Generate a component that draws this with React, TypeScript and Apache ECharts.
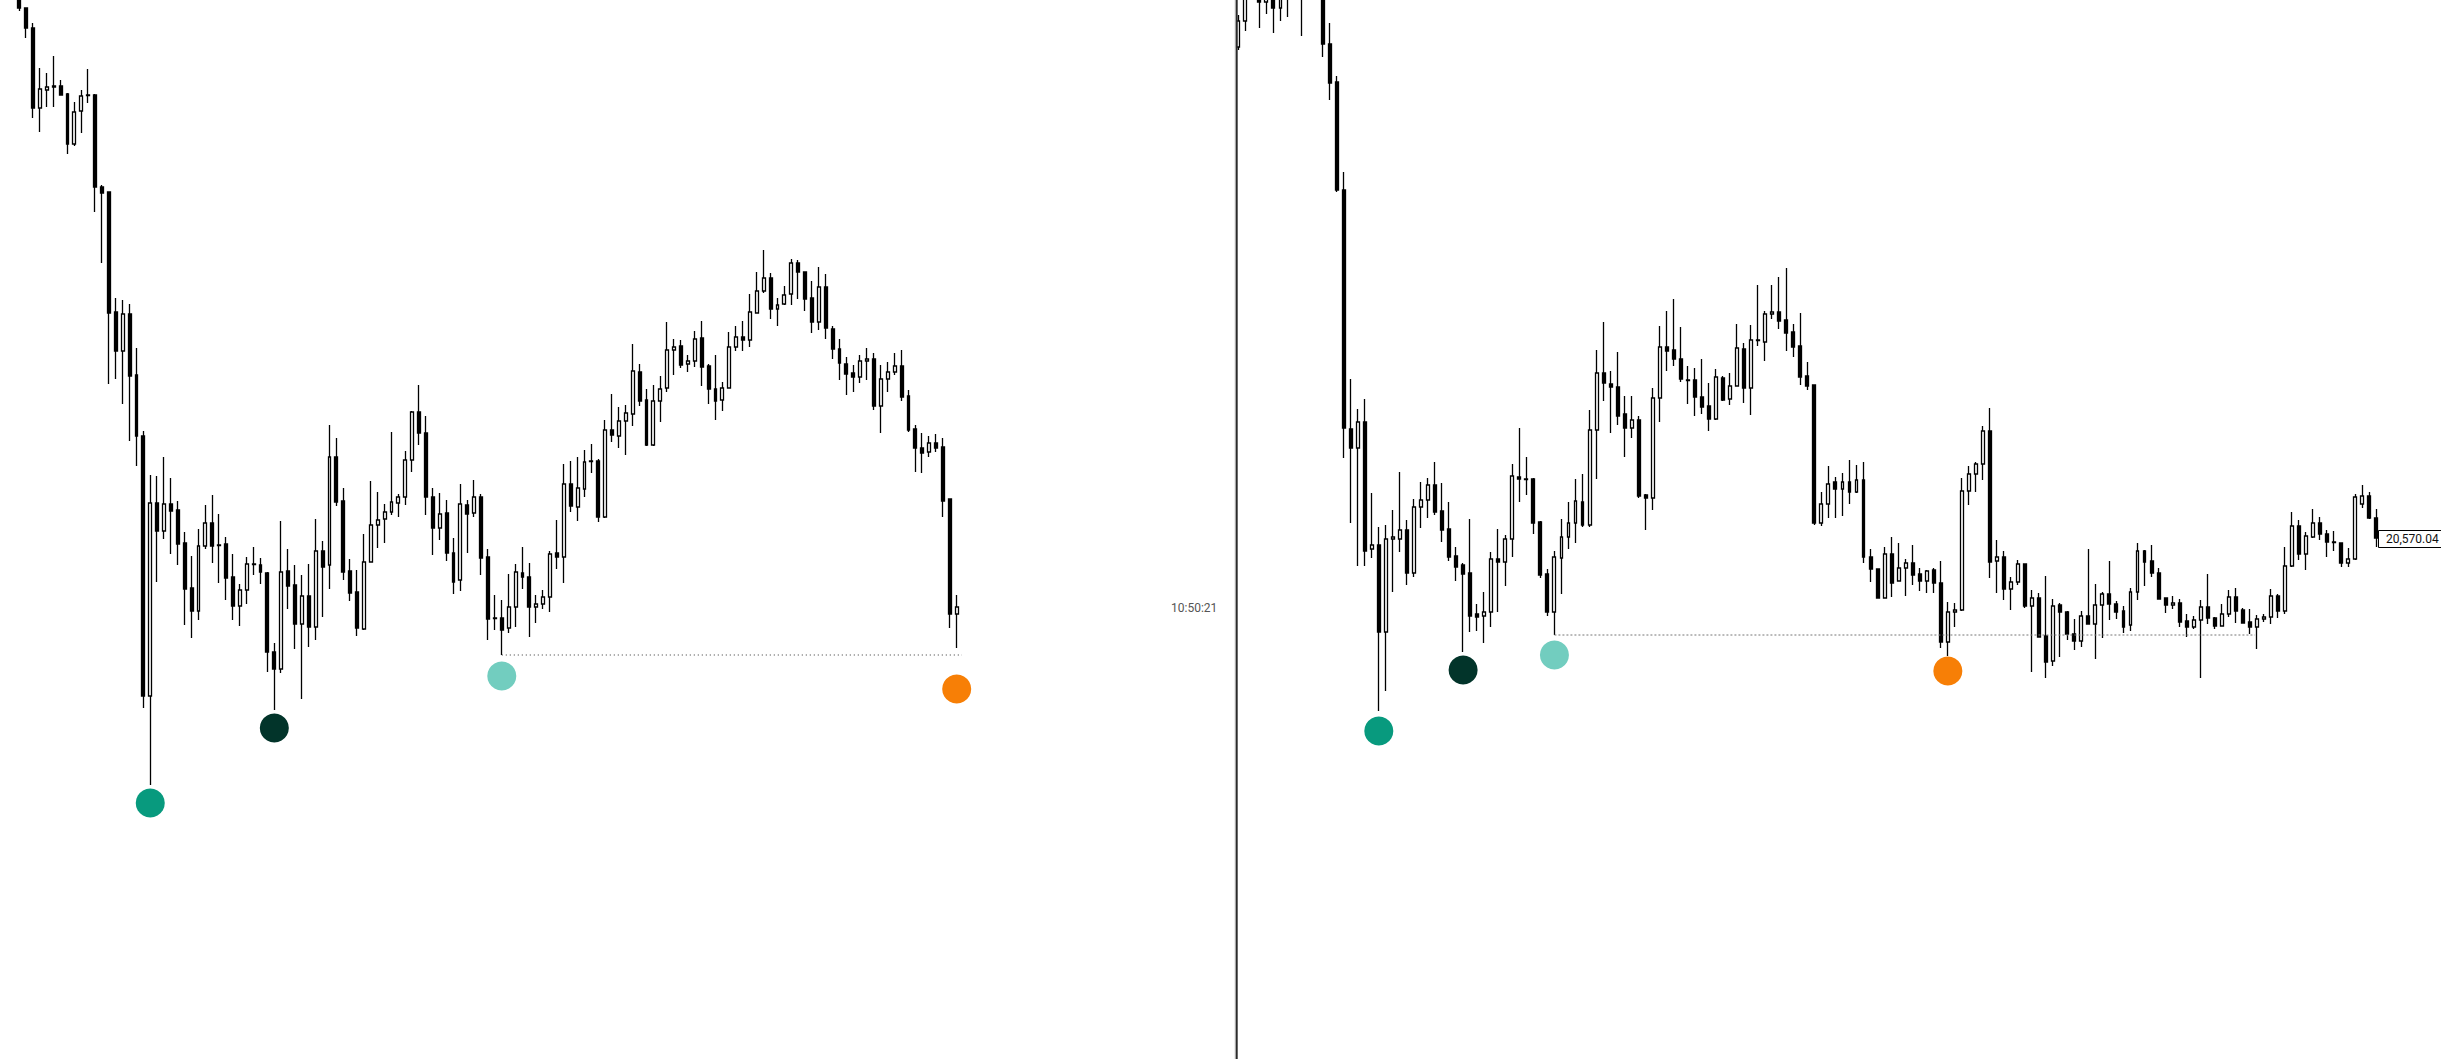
import React, { useEffect, useRef } from "react";
import * as echarts from "echarts";

// Candles as [open, close, low, high]
const leftCandles: number[][] = [
  [21105, 21092, 21089, 21115], [21092, 21072, 21062, 21092], [21072, 20992, 20982, 21077], [20992, 21011, 20968, 21032],
  [21010, 21013, 20993, 21027], [21014, 21013, 20993, 21044], [21014, 21005, 21005, 21020], [21006, 20956, 20946, 21007],
  [20956, 20988, 20954, 20998], [20989, 21004, 20967, 21010], [21005, 21004.5, 20997, 21031], [21005, 20913, 20888, 21006],
  [20913, 20907, 20837, 20915], [20908, 20787, 20716, 20908], [20788, 20749, 20721, 20802], [20749, 20786, 20696, 20800],
  [20786, 20724, 20659, 20796], [20725, 20664, 20634, 20752], [20664, 20404, 20392, 20669], [20404, 20597, 20315, 20625],
  [20597, 20569, 20518, 20624], [20569, 20596, 20561, 20643], [20596, 20589, 20546, 20622], [20590, 20556, 20535, 20599],
  [20557, 20511, 20475, 20568], [20512, 20489, 20462, 20544], [20489, 20554, 20480, 20571], [20554, 20577, 20551, 20595],
  [20577, 20554, 20537, 20605], [20555, 20554.5, 20517, 20586], [20556, 20522, 20500, 20563], [20523, 20494, 20480, 20546],
  [20494, 20510, 20474, 20516], [20510, 20536, 20496, 20543], [20536, 20535.5, 20525, 20553], [20535, 20528, 20516, 20542],
  [20527, 20448, 20428, 20528], [20448, 20431, 20390, 20457], [20431, 20528, 20427, 20579], [20529, 20514, 20491, 20551],
  [20515, 20476, 20451, 20535], [20476, 20504, 20401, 20525], [20504, 20473, 20453, 20536], [20473, 20549, 20460, 20581],
  [20549, 20533, 20483, 20559], [20535, 20643, 20511, 20675], [20643, 20598, 20594, 20662], [20599, 20528, 20520, 20612],
  [20529, 20507, 20499, 20541], [20508, 20472, 20464, 20530], [20471, 20538, 20470, 20566], [20538, 20575, 20538, 20619],
  [20575, 20580, 20552, 20608], [20581, 20588, 20557, 20596], [20588, 20598, 20585, 20668], [20597, 20603, 20583, 20606],
  [20603, 20640, 20595, 20649], [20640, 20688, 20628, 20689], [20688, 20667, 20655, 20715], [20667, 20603, 20585, 20684],
  [20603, 20572, 20545, 20612], [20572, 20586, 20560, 20607], [20587, 20547, 20539, 20600], [20547, 20518, 20506, 20562],
  [20520, 20596, 20509, 20616], [20595, 20586, 20547, 20600], [20587, 20603, 20583, 20620], [20603, 20542, 20525, 20606],
  [20543, 20481, 20460, 20551], [20482, 20481.5, 20470, 20505], [20482, 20470, 20445, 20500], [20472, 20493, 20467, 20526],
  [20493, 20528, 20473, 20536], [20527, 20523, 20511, 20553], [20523, 20493, 20463, 20537], [20493, 20496, 20477, 20505],
  [20496, 20503, 20491, 20510], [20503, 20546, 20488, 20549], [20547, 20543, 20531, 20580], [20543, 20616, 20517, 20636],
  [20616, 20594, 20588, 20639], [20593, 20612, 20579, 20643], [20611, 20638, 20603, 20650], [20639, 20638.5, 20627, 20656],
  [20639, 20583, 20578, 20641], [20583, 20670, 20582, 20680], [20670, 20665, 20658, 20706], [20664, 20679, 20652, 20693],
  [20679, 20687, 20645, 20695], [20686, 20729, 20674, 20756], [20728, 20699, 20694, 20736], [20700, 20655, 20654, 20711],
  [20655, 20699, 20654, 20715], [20699, 20711, 20678, 20724], [20712, 20750, 20708, 20778], [20750, 20753, 20725, 20761],
  [20754, 20735, 20732, 20760], [20736, 20739, 20728, 20745], [20739, 20761, 20733, 20769], [20762, 20733, 20714, 20779],
  [20734, 20711, 20696, 20736], [20711, 20699, 20680, 20745], [20700, 20712, 20689, 20718], [20712, 20753, 20712, 20768],
  [20753, 20763, 20749, 20774], [20763, 20760, 20749, 20779], [20760, 20788, 20753, 20806], [20787, 20809, 20787, 20828],
  [20809, 20822, 20807, 20850], [20822, 20791, 20781, 20827], [20791, 20795, 20774, 20802], [20796, 20805, 20795, 20814],
  [20806, 20837, 20795, 20841], [20837, 20828, 20801, 20840], [20828, 20801, 20789, 20828], [20802, 20778, 20767, 20819],
  [20778, 20813, 20770, 20833], [20813, 20772, 20761, 20826], [20771, 20751, 20741, 20774], [20751, 20737, 20720, 20761],
  [20736, 20726, 20705, 20743], [20727, 20723, 20708, 20735], [20723, 20739, 20717, 20745], [20739, 20741, 20720, 20752],
  [20741, 20694, 20690, 20747], [20694, 20721, 20667, 20735], [20721, 20728, 20708, 20738], [20728, 20734, 20725, 20747],
  [20734, 20703, 20699, 20750], [20704, 20670, 20668, 20710], [20671, 20652, 20628, 20675], [20652, 20647, 20627, 20667],
  [20648, 20657, 20643, 20664], [20657, 20652, 20648, 20666], [20653, 20599, 20583, 20662], [20601, 20486, 20472, 20601],
  [20486, 20493, 20452, 20505],
];

const rightCandles: number[][] = [
  [21053, 21079, 21050, 21085], [21079, 21108, 21069, 21115], [21110, 21130, 21103, 21140], [21105, 21098, 21072, 21115],
  [21098, 21105, 21086, 21112], [21104, 21092, 21067, 21112], [21092, 21103, 21079, 21110], [21105, 21115, 21083, 21125],
  [21120, 21130, 21102, 21140], [21125, 21115, 21064, 21135], [21120, 21135, 21105, 21145], [21135, 21120, 21102, 21150],
  [21120, 21056, 21043, 21125], [21056, 21017, 21000, 21077], [21018, 20910, 20908, 21024], [20910, 20672, 20642, 20928],
  [20671, 20652, 20577, 20721], [20652, 20678, 20534, 20691], [20678, 20549, 20534, 20701], [20551, 20555, 20542, 20607],
  [20555, 20468, 20389, 20573], [20468, 20561, 20409, 20575], [20561, 20563, 20508, 20590], [20561, 20570, 20548, 20628],
  [20570, 20527, 20515, 20580], [20527, 20593, 20523, 20601], [20593, 20600, 20572, 20618], [20600, 20615, 20582, 20622],
  [20615, 20588, 20585, 20638], [20589, 20570, 20558, 20617], [20571, 20543, 20539, 20598], [20544, 20533, 20519, 20553],
  [20535, 20526, 20448, 20537], [20527, 20484, 20468, 20581], [20486, 20483, 20469, 20496], [20484, 20488, 20457, 20508],
  [20488, 20541, 20473, 20548], [20541, 20538, 20488, 20571], [20538, 20561, 20514, 20565], [20561, 20624, 20543, 20636],
  [20623, 20621, 20598, 20672], [20621, 20620.5, 20605, 20643], [20621, 20577, 20566, 20622], [20578, 20525, 20522, 20579],
  [20526, 20488, 20484, 20531], [20488, 20543, 20465, 20549], [20542, 20563, 20506, 20581], [20563, 20577, 20551, 20598],
  [20577, 20599, 20557, 20621], [20598, 20575, 20573, 20626], [20575, 20670, 20573, 20690], [20670, 20727, 20621, 20750],
  [20727, 20717, 20699, 20778], [20716, 20713, 20667, 20729], [20713, 20684, 20675, 20748], [20686, 20672, 20643, 20704],
  [20672, 20680, 20662, 20704], [20680, 20604, 20602, 20684], [20605, 20602, 20570, 20606], [20602, 20702, 20590, 20712],
  [20702, 20753, 20678, 20774], [20753, 20749, 20729, 20789], [20750, 20741, 20734, 20801], [20741, 20721, 20718, 20773],
  [20720, 20719.5, 20696, 20734], [20720, 20703, 20684, 20732], [20703, 20693, 20686, 20741], [20694, 20681, 20669, 20717],
  [20681, 20723, 20680, 20731], [20722, 20700, 20699, 20724], [20701, 20714, 20695, 20727], [20714, 20752, 20714, 20776],
  [20751, 20712, 20697, 20757], [20712, 20760, 20685, 20775], [20760, 20759.5, 20754, 20815], [20758, 20786, 20739, 20789],
  [20786, 20788, 20781, 20815], [20788, 20779, 20771, 20823], [20780, 20767, 20749, 20832], [20768, 20753, 20743, 20776],
  [20754, 20723, 20715, 20787], [20724, 20714, 20710, 20738], [20715, 20577, 20575, 20715], [20577, 20596, 20574, 20608],
  [20596, 20616, 20582, 20634], [20618, 20611, 20582, 20623], [20611, 20618, 20584, 20627], [20618, 20608, 20596, 20640],
  [20608, 20620, 20607, 20635], [20620, 20543, 20537, 20638], [20543, 20531, 20518, 20551], [20531, 20502, 20502, 20531],
  [20502, 20546, 20502, 20553], [20546, 20517, 20503, 20563], [20519, 20532, 20519, 20557], [20532, 20537, 20504, 20541],
  [20537, 20525, 20515, 20555], [20526, 20519, 20509, 20532], [20519, 20529, 20507, 20530], [20530, 20517, 20507, 20532],
  [20517, 20458, 20452, 20539], [20458, 20488, 20444, 20498], [20488, 20490, 20473, 20497], [20490, 20609, 20489, 20622],
  [20609, 20626, 20595, 20634], [20626, 20636, 20608, 20638], [20636, 20669, 20620, 20674], [20669, 20538, 20522, 20692],
  [20539, 20543, 20507, 20560], [20543, 20511, 20500, 20549], [20511, 20518, 20490, 20523], [20518, 20536, 20515, 20540],
  [20536, 20494, 20492, 20536], [20494, 20502, 20428, 20510], [20502, 20463, 20463, 20507], [20464, 20438, 20422, 20524],
  [20439, 20494, 20434, 20501], [20495, 20488, 20443, 20497], [20488, 20466, 20460, 20489], [20466, 20459, 20450, 20481],
  [20459, 20484, 20453, 20489], [20484, 20476, 20476, 20551], [20476, 20495, 20441, 20516], [20495, 20506, 20462, 20508],
  [20506, 20496, 20480, 20539], [20496, 20488, 20481, 20499], [20489, 20473, 20467, 20494], [20475, 20508, 20469, 20512],
  [20508, 20549, 20500, 20557], [20549, 20538, 20514, 20550], [20539, 20527, 20523, 20555], [20527, 20501, 20501, 20532],
  [20502, 20495, 20487, 20502], [20495, 20497, 20491, 20504], [20497, 20478, 20473, 20501], [20479, 20473, 20463, 20486],
  [20473, 20480, 20471, 20484], [20480, 20493, 20422, 20500], [20493, 20482, 20476, 20526], [20482, 20474, 20471, 20483],
  [20474, 20486, 20474, 20496], [20486, 20503, 20483, 20510], [20503, 20489, 20477, 20512], [20490, 20477, 20477, 20492],
  [20478, 20473, 20466, 20491], [20473, 20481, 20451, 20485], [20481, 20483, 20478, 20486], [20483, 20504, 20476, 20511],
  [20504, 20489, 20482, 20506], [20489, 20534, 20486, 20553], [20534, 20574, 20533, 20588], [20574, 20546, 20540, 20580],
  [20546, 20564, 20530, 20568], [20563, 20577, 20562, 20591], [20577, 20566, 20560, 20583], [20566, 20558, 20543, 20570],
  [20558, 20557.5, 20549, 20569], [20557, 20537, 20533, 20557], [20537, 20541, 20533, 20552], [20541, 20603, 20540, 20606],
  [20596, 20604, 20592, 20615], [20604, 20582, 20581, 20608], [20582, 20562, 20553, 20591],
];

// Marker points: [candle index, price]
const leftMarkers: number[][] = [[19, 20297], [37, 20372], [70, 20424], [136, 20411]];
const rightMarkers: number[][] = [[20, 20369], [32, 20430], [45, 20445], [101, 20429]];
const markerColors = ["#089A7E", "#02342A", "#72CDBF", "#F77F06"];

// Horizontal reference lines: [startIndex, endIndex, price]
const leftLevel = [70, 138.65, 20445];
const rightLevel = [45, 144.7, 20465];

const timeLabel = "10:50:21";
const priceLabel = "20,570.04";

const Y_MIN = 20041;
const Y_MAX = 21100;

export default function App() {
  const ref = useRef<HTMLDivElement>(null);
  useEffect(() => {
    if (!ref.current) return;
    const chart = echarts.init(ref.current, undefined, { renderer: "svg" });
    const leftCats = leftCandles.map((_, i) => "L" + i);
    const rightCats = rightCandles.map((_, i) => "R" + i);
    const nL = leftCandles.length;
    const nR = rightCandles.length;
    const candleStyle = {
      color: "#ffffff",
      color0: "#000000",
      borderColor: "#000000",
      borderColor0: "#000000",
      borderColorDoji: "#000000",
      borderWidth: 1.3,
    };
    const mkScatter = (pts: number[][], xi: number, yi: number) => ({
      type: "scatter",
      xAxisIndex: xi,
      yAxisIndex: yi,
      symbol: "circle",
      symbolSize: 29,
      z: 5,
      silent: true,
      data: pts.map((p, i) => ({ value: p, itemStyle: { color: markerColors[i], opacity: 1 } })),
    });
    chart.setOption({
      animation: false,
      backgroundColor: "#ffffff",
      grid: [
        { left: 15.85, top: 0, width: 944.3, height: 1059 },
        { left: 1234.79, top: 0, width: 1145.1, height: 1059 },
      ],
      xAxis: [
        { type: "category", gridIndex: 0, data: leftCats, show: false, boundaryGap: true },
        { type: "category", gridIndex: 1, data: rightCats, show: false, boundaryGap: true },
        { type: "value", gridIndex: 0, min: -0.5, max: nL - 0.5, show: false },
        { type: "value", gridIndex: 1, min: -0.5, max: nR - 0.5, show: false },
      ],
      yAxis: [
        { type: "value", gridIndex: 0, min: Y_MIN, max: Y_MAX, show: false },
        { type: "value", gridIndex: 1, min: Y_MIN, max: Y_MAX, show: false },
      ],
      series: [
        {
          type: "candlestick",
          xAxisIndex: 0,
          yAxisIndex: 0,
          barWidth: 3.4,
          data: leftCandles,
          itemStyle: candleStyle,
          clip: true,
        },
        {
          type: "candlestick",
          xAxisIndex: 1,
          yAxisIndex: 1,
          barWidth: 3.4,
          data: rightCandles,
          itemStyle: candleStyle,
          clip: true,
        },
        {
          type: "line",
          xAxisIndex: 2,
          yAxisIndex: 0,
          symbol: "none",
          clip: false,
          silent: true,
          lineStyle: { color: "#333333", width: 1, type: [1, 3] },
          data: [[leftLevel[0], leftLevel[2]], [leftLevel[1], leftLevel[2]]],
        },
        {
          type: "line",
          xAxisIndex: 3,
          yAxisIndex: 1,
          symbol: "none",
          clip: false,
          silent: true,
          lineStyle: { color: "#777777", width: 1, type: [2, 2] },
          data: [[rightLevel[0], rightLevel[2]], [rightLevel[1], rightLevel[2]]],
        },
        mkScatter(leftMarkers, 2, 0),
        mkScatter(rightMarkers, 3, 1),
      ],
      graphic: [
        { type: "rect", z: 100, shape: { x: 1234.6, y: 0, width: 1.2, height: 1059 }, style: { fill: "#d6d6d6" } },
        { type: "rect", z: 100, shape: { x: 1235.7, y: 0, width: 2, height: 1059 }, style: { fill: "#2b2b2b" } },
        {
          type: "text",
          z: 100,
          x: 1171,
          y: 608,
          style: { text: timeLabel, fill: "#555555", font: "12px Roboto", verticalAlign: "middle", align: "left" },
        },
        {
          type: "rect",
          z: 100,
          shape: { x: 2378.5, y: 530.5, width: 70, height: 17 },
          style: { fill: "#ffffff", stroke: "#000000", lineWidth: 1 },
        },
        {
          type: "text",
          z: 101,
          x: 2386,
          y: 539,
          style: { text: priceLabel, fill: "#111111", font: "12px Roboto", verticalAlign: "middle", align: "left" },
        },
      ],
    });
    return () => chart.dispose();
  }, []);
  return (
    <div
      ref={ref}
      style={{ position: "absolute", left: 0, top: 0, width: 2441, height: 1059, background: "#ffffff" }}
    />
  );
}
